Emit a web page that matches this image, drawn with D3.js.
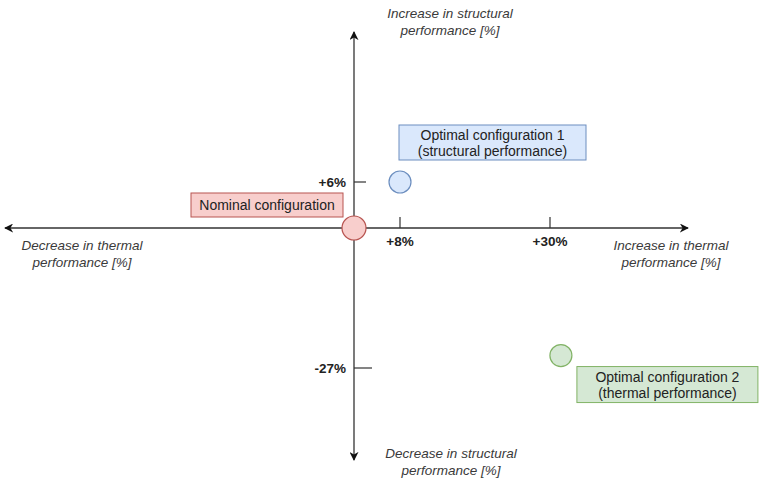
<!DOCTYPE html>
<html>
<head>
<meta charset="utf-8">
<script src="https://cdn.jsdelivr.net/npm/d3@7"></script>
<style>
  body { margin: 0; background: #fff; }
  svg { display: block; font-family: "Liberation Sans", Arial, sans-serif; }
</style>
</head>
<body>
<svg id="chart" width="759" height="478"></svg>
<script>
// values
const configNames = ["Nominal configuration", "Optimal configuration 1", "Optimal configuration 2"];
const configSubtitles = ["", "(structural performance)", "(thermal performance)"];
const thermalGain = [0, 8, 31.6];
const structuralGain = [0, 6, -24.6];

const thermalTicks = [8, 30];
const thermalTickLabels = ["+8%", "+30%"];
const structuralTicks = [6, -27];
const structuralTickLabels = ["+6%", "-27%"];

const width = 759, height = 478;
const svg = d3.select("#chart");

// schematic diagram, so the scales are piecewise
const x = d3.scaleLinear().domain([0, 8, 30]).range([354, 400, 550]);
const y = d3.scaleLinear().domain([-27, 0, 6]).range([368, 228, 182]);

const fills = ["#f8cecc", "#dae8fc", "#d5e8d4"];
const strokes = ["#b85450", "#6c8ebf", "#82b366"];
// box placement relative to each point: [dx, dy, w, h]
const boxes = [[-163, -35, 152, 24], [-1, -57, 187, 35], [16, 11, 181, 36]];

const defs = svg.append("defs");
defs.append("marker")
    .attr("id", "arrow")
    .attr("viewBox", "0 0 10 10")
    .attr("refX", 9).attr("refY", 5)
    .attr("markerWidth", 9).attr("markerHeight", 9)
    .attr("markerUnits", "userSpaceOnUse")
    .attr("orient", "auto")
    .append("path")
    .attr("d", "M0,0 L10,5 L0,10 L3,5 Z")
    .attr("fill", "#111");

const x0 = x(0), y0 = y(0);
const axisColor = "#333";

// horizontal axis (both directions)
svg.append("line").attr("x1", x0).attr("y1", y0).attr("x2", 688).attr("y2", y0)
    .attr("stroke", axisColor).attr("stroke-width", 1.3).attr("marker-end", "url(#arrow)");
svg.append("line").attr("x1", x0).attr("y1", y0).attr("x2", 5).attr("y2", y0)
    .attr("stroke", axisColor).attr("stroke-width", 1.3).attr("marker-end", "url(#arrow)");
// vertical axis
svg.append("line").attr("x1", x0).attr("y1", y0).attr("x2", x0).attr("y2", 32)
    .attr("stroke", axisColor).attr("stroke-width", 1.3).attr("marker-end", "url(#arrow)");
svg.append("line").attr("x1", x0).attr("y1", y0).attr("x2", x0).attr("y2", 460)
    .attr("stroke", axisColor).attr("stroke-width", 1.3).attr("marker-end", "url(#arrow)");

// ticks on the thermal axis
thermalTicks.forEach((t, i) => {
  svg.append("line").attr("x1", x(t)).attr("x2", x(t)).attr("y1", y0 - 11).attr("y2", y0)
      .attr("stroke", axisColor).attr("stroke-width", 1.2);
  svg.append("text").attr("x", x(t)).attr("y", y0 + 18)
      .attr("text-anchor", "middle").attr("font-size", 13.5).attr("font-weight", "bold")
      .attr("fill", "#222").text(thermalTickLabels[i]);
});

// ticks on the structural axis
structuralTicks.forEach((t, i) => {
  const len = t < 0 ? 18 : 12;
  svg.append("line").attr("x1", x0).attr("x2", x0 + len).attr("y1", y(t)).attr("y2", y(t))
      .attr("stroke", axisColor).attr("stroke-width", 1.2);
  svg.append("text").attr("x", x0 - 8).attr("y", y(t) + 5)
      .attr("text-anchor", "end").attr("font-size", 13.5).attr("font-weight", "bold")
      .attr("fill", "#222").text(structuralTickLabels[i]);
});

// axis titles
const titles = [
  {lines: ["Increase in structural", "performance [%]"], x: 450, y: 18},
  {lines: ["Decrease in structural", "performance [%]"], x: 451, y: 458},
  {lines: ["Decrease in thermal", "performance [%]"], x: 82, y: 250},
  {lines: ["Increase in thermal", "performance [%]"], x: 671, y: 250}
];
titles.forEach(t => {
  const txt = svg.append("text").attr("text-anchor", "middle").attr("font-size", 13.5)
      .attr("font-style", "italic").attr("fill", "#3a3a3a");
  t.lines.forEach((l, i) => {
    txt.append("tspan").attr("x", t.x).attr("y", t.y + i * 16.5).text(l);
  });
});

// label boxes
configNames.forEach((name, i) => {
  const px = x(thermalGain[i]), py = y(structuralGain[i]);
  const [dx, dy, w, h] = boxes[i];
  svg.append("rect").attr("x", px + dx).attr("y", py + dy).attr("width", w).attr("height", h)
      .attr("fill", fills[i]).attr("stroke", strokes[i]).attr("stroke-width", 1);
  const txt = svg.append("text").attr("text-anchor", "middle").attr("font-size", 14)
      .attr("fill", "#222");
  const lines = configSubtitles[i] ? [name, configSubtitles[i]] : [name];
  const cy = py + dy + h / 2;
  lines.forEach((l, j) => {
    txt.append("tspan").attr("x", px + dx + w / 2)
        .attr("y", cy + 5 + (j - (lines.length - 1) / 2) * 16).text(l);
  });
});

// points
svg.selectAll("circle.pt")
    .data(configNames.map((d, i) => i))
    .enter().append("circle")
    .attr("class", "pt")
    .attr("cx", i => x(thermalGain[i]))
    .attr("cy", i => y(structuralGain[i]))
    .attr("r", i => i === 0 ? 12 : 11)
    .attr("fill", i => fills[i])
    .attr("stroke", i => strokes[i])
    .attr("stroke-width", 1.2);
</script>
</body>
</html>
